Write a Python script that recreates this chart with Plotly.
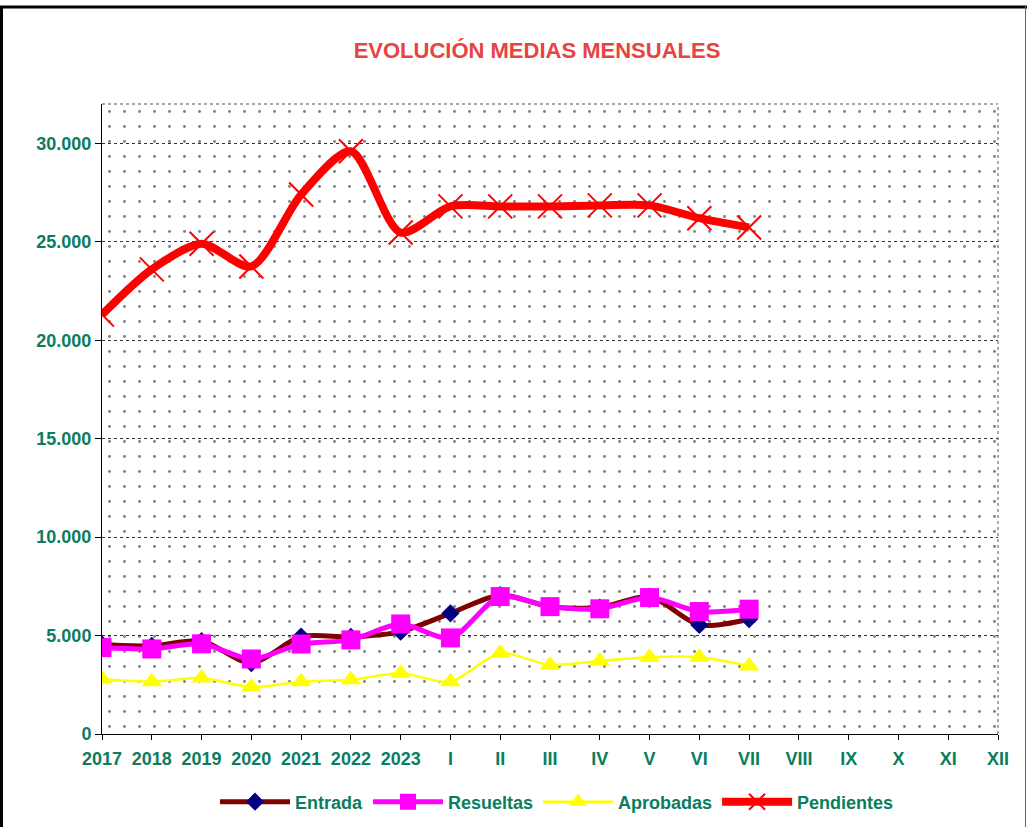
import plotly.graph_objects as go

categories = ["2017", "2018", "2019", "2020", "2021", "2022", "2023",
              "I", "II", "III", "IV", "V", "VI", "VII", "VIII", "IX", "X", "XI", "XII"]
months_with_data = categories[:14]

entrada = [4550, 4480, 4720, 3600, 4950, 4930, 5200, 6130, 7050, 6470, 6420, 6980, 5540, 5830]
resueltas = [4390, 4320, 4580, 3810, 4570, 4780, 5590, 4880, 6980, 6470, 6360, 6930, 6220, 6340]
aprobadas = [2800, 2660, 2840, 2390, 2660, 2750, 3090, 2660, 4100, 3510, 3710, 3900, 3900, 3460]
pendientes = [21300, 23600, 24900, 23750, 27400, 29600, 25470, 26800, 26800, 26800, 26850, 26850, 26200, 25730]

y_max = 32000
green = "#0B7D5E"
font_family = "Arial, Liberation Sans, sans-serif"

W, H = 1027, 827
ML, MR, MT, MB = 102, 29, 104, 93
PW, PH = W - ML - MR, H - MT - MB

def px_x(p):
    return (p - ML) / PW

def px_y(p):
    return (H - MB - p) / PH

fig = go.Figure()

# dotted background pattern for plot area
fig.add_trace(go.Scatter(
    x=[categories[0], categories[-1], categories[-1], categories[0], categories[0]],
    y=[0, 0, y_max, y_max, 0],
    mode="lines", fill="toself",
    line=dict(width=0, color="rgba(0,0,0,0)"),
    fillcolor="rgba(0,0,0,0)",
    fillpattern=dict(shape=".", fgcolor="black", bgcolor="rgba(0,0,0,0)",
                     size=15, solidity=0.03),
    hoverinfo="skip", showlegend=False,
))

fig.add_trace(go.Scatter(
    x=months_with_data, y=entrada, name="Entrada",
    mode="lines+markers", line=dict(color="#800000", width=5, shape="spline", smoothing=0.8),
    marker=dict(symbol="diamond", color="#000080", size=14),
))
fig.add_trace(go.Scatter(
    x=months_with_data, y=resueltas, name="Resueltas",
    mode="lines+markers", line=dict(color="#FF00FF", width=5, shape="spline", smoothing=0.8),
    marker=dict(symbol="square", color="#FF00FF", size=19),
))
fig.add_trace(go.Scatter(
    x=months_with_data, y=aprobadas, name="Aprobadas",
    mode="lines+markers", line=dict(color="#FFFF00", width=2.5, shape="spline", smoothing=0.8),
    marker=dict(symbol="triangle-up", color="#FFFF00", size=18),
))
fig.add_trace(go.Scatter(
    x=months_with_data, y=pendientes, name="Pendientes",
    mode="lines+markers", line=dict(color="#FF0000", width=8, shape="spline", smoothing=0.8),
    marker=dict(symbol="x-thin", color="#FF0000", size=24, line=dict(color="#FF0000", width=2)),
))

shapes = [
    # outer frame
    dict(type="line", xref="paper", yref="paper", x0=px_x(0), x1=px_x(W), y0=px_y(7), y1=px_y(7),
         line=dict(color="black", width=3)),
    dict(type="line", xref="paper", yref="paper", x0=px_x(1.5), x1=px_x(1.5), y0=px_y(6), y1=px_y(H),
         line=dict(color="black", width=3)),
    dict(type="line", xref="paper", yref="paper", x0=px_x(1025.5), x1=px_x(1025.5), y0=px_y(6), y1=px_y(H),
         line=dict(color="#666666", width=1)),
    # plot area border top/right
    dict(type="line", xref="paper", yref="paper", x0=0, x1=1, y0=1, y1=1,
         line=dict(color="#555555", width=1, dash="dot")),
    dict(type="line", xref="paper", yref="paper", x0=1, x1=1, y0=0, y1=1,
         line=dict(color="#555555", width=1, dash="dot")),
]

fig.update_layout(
    width=W, height=H,
    margin=dict(l=ML, r=MR, t=MT, b=MB, autoexpand=False),
    paper_bgcolor="white", plot_bgcolor="white",
    separators=",.",
    font=dict(family=font_family, color=green, size=18),
    title=dict(text="<b>EVOLUCIÓN MEDIAS MENSUALES</b>", x=537 / W, xanchor="center",
               y=1 - 50 / H, yanchor="middle", yref="container",
               font=dict(family=font_family, size=22, color="#E8433F")),
    showlegend=True,
    legend=dict(orientation="h", xref="container", yref="container",
                x=557 / W, xanchor="center", y=1 - 802 / H, yanchor="middle",
                font=dict(family=font_family, size=18, color=green, weight="bold"),
                itemwidth=70, tracegroupgap=0, bgcolor="rgba(0,0,0,0)"),
    shapes=shapes,
)

fig.update_xaxes(
    type="category", categoryorder="array", categoryarray=categories,
    range=[0, len(categories) - 1],
    showgrid=False, zeroline=False,
    showline=True, linecolor="black", linewidth=1,
    ticks="outside", ticklen=5, tickcolor="black", ticklabelstandoff=3,
    tickfont=dict(family=font_family, size=18, color=green, weight="bold"),
)
fig.update_yaxes(
    range=[0, y_max], tickvals=[0, 5000, 10000, 15000, 20000, 25000, 30000],
    tickformat=",d",
    showgrid=True, gridcolor="#333333", gridwidth=1, griddash="dot",
    zeroline=False,
    showline=True, linecolor="black", linewidth=1,
    ticks="outside", ticklen=6, tickcolor="black",
    tickfont=dict(family=font_family, size=18, color=green, weight="bold"),
)

fig.write_html("out.html", config={"displayModeBar": False},
               post_script="document.body.style.margin='0';document.body.style.overflow='hidden';")
